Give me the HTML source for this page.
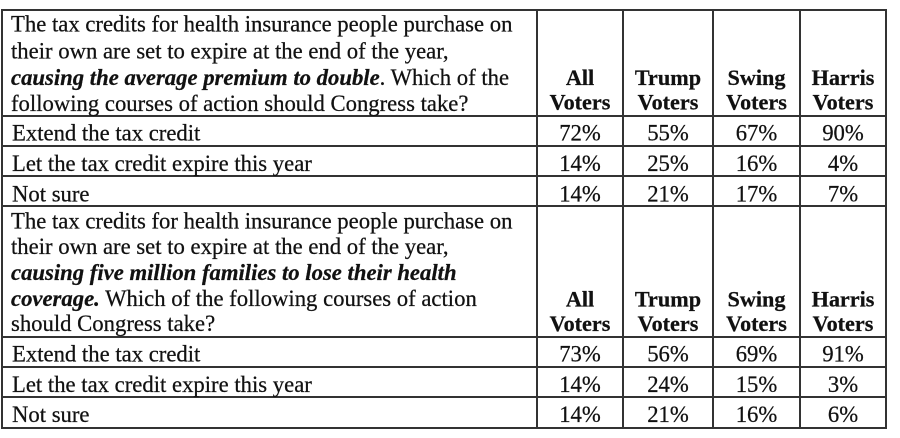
<!DOCTYPE html>
<html>
<head>
<meta charset="utf-8">
<style>
  html, body { margin: 0; padding: 0; background: #fff; }
  body { width: 900px; height: 438px; overflow: hidden; }
  svg { display: block; }
  text { font-family: "Liberation Serif", "Times New Roman", serif; fill: #111; stroke: #111; stroke-width: 0.25px; }
  .r { font-size: 22.7px; }
  .h { font-size: 22.2px; font-weight: bold; }
  .bi { font-weight: bold; font-style: italic; }
</style>
</head>
<body>
<svg width="900" height="438" viewBox="0 0 900 438" xmlns="http://www.w3.org/2000/svg">
  <rect width="900" height="438" fill="#fff" stroke="none"/>
  <g stroke="#333" stroke-width="2" fill="none">
    <line x1="1" y1="10" x2="887" y2="10"/>
    <line x1="1" y1="116" x2="887" y2="116"/>
    <line x1="1" y1="146" x2="887" y2="146"/>
    <line x1="1" y1="176" x2="887" y2="176"/>
    <line x1="1" y1="206" x2="887" y2="206"/>
    <line x1="1" y1="337" x2="887" y2="337"/>
    <line x1="1" y1="367" x2="887" y2="367"/>
    <line x1="1" y1="397" x2="887" y2="397"/>
    <line x1="1" y1="428" x2="887" y2="428"/>
    <line x1="2" y1="9" x2="2" y2="429"/>
    <line x1="537" y1="9" x2="537" y2="429"/>
    <line x1="623" y1="9" x2="623" y2="429"/>
    <line x1="713" y1="9" x2="713" y2="429"/>
    <line x1="800" y1="9" x2="800" y2="429"/>
    <line x1="886" y1="9" x2="886" y2="429"/>
  </g>

  <!-- Table 1 header -->
  <text class="r" x="11" y="31.7">The tax credits for health insurance people purchase on</text>
  <text class="r" x="11" y="58.3">their own are set to expire at the end of the year,</text>
  <text class="r" x="11" y="85"><tspan class="bi">causing the average premium to double</tspan>. Which of the</text>
  <text class="r" x="11" y="111">following courses of action should Congress take?</text>

  <text class="h" x="580" y="85" text-anchor="middle">All</text>
  <text class="h" x="580" y="109.5" text-anchor="middle">Voters</text>
  <text class="h" x="668" y="85" text-anchor="middle">Trump</text>
  <text class="h" x="668" y="109.5" text-anchor="middle">Voters</text>
  <text class="h" x="756.5" y="85" text-anchor="middle">Swing</text>
  <text class="h" x="756.5" y="109.5" text-anchor="middle">Voters</text>
  <text class="h" x="843" y="85" text-anchor="middle">Harris</text>
  <text class="h" x="843" y="109.5" text-anchor="middle">Voters</text>

  <text class="r" x="12" y="140.5">Extend the tax credit</text>
  <text class="r" x="12" y="171">Let the tax credit expire this year</text>
  <text class="r" x="12" y="201.5">Not sure</text>

  <g text-anchor="middle">
    <text class="r" x="580" y="140.5">72%</text>
    <text class="r" x="668" y="140.5">55%</text>
    <text class="r" x="756.5" y="140.5">67%</text>
    <text class="r" x="843" y="140.5">90%</text>
    <text class="r" x="580" y="171">14%</text>
    <text class="r" x="668" y="171">25%</text>
    <text class="r" x="756.5" y="171">16%</text>
    <text class="r" x="843" y="171">4%</text>
    <text class="r" x="580" y="201.5">14%</text>
    <text class="r" x="668" y="201.5">21%</text>
    <text class="r" x="756.5" y="201.5">17%</text>
    <text class="r" x="843" y="201.5">7%</text>
  </g>

  <!-- Table 2 header -->
  <text class="r" x="11" y="228.3">The tax credits for health insurance people purchase on</text>
  <text class="r" x="11" y="254">their own are set to expire at the end of the year,</text>
  <text class="r" x="11" y="280"><tspan class="bi">causing five million families to lose their health</tspan></text>
  <text class="r" x="11" y="306"><tspan class="bi">coverage.</tspan> Which of the following courses of action</text>
  <text class="r" x="11" y="331">should Congress take?</text>

  <text class="h" x="580" y="306.3" text-anchor="middle">All</text>
  <text class="h" x="580" y="331" text-anchor="middle">Voters</text>
  <text class="h" x="668" y="306.3" text-anchor="middle">Trump</text>
  <text class="h" x="668" y="331" text-anchor="middle">Voters</text>
  <text class="h" x="756.5" y="306.3" text-anchor="middle">Swing</text>
  <text class="h" x="756.5" y="331" text-anchor="middle">Voters</text>
  <text class="h" x="843" y="306.3" text-anchor="middle">Harris</text>
  <text class="h" x="843" y="331" text-anchor="middle">Voters</text>

  <text class="r" x="12" y="361.5">Extend the tax credit</text>
  <text class="r" x="12" y="392">Let the tax credit expire this year</text>
  <text class="r" x="12" y="422">Not sure</text>

  <g text-anchor="middle">
    <text class="r" x="580" y="361.5">73%</text>
    <text class="r" x="668" y="361.5">56%</text>
    <text class="r" x="756.5" y="361.5">69%</text>
    <text class="r" x="843" y="361.5">91%</text>
    <text class="r" x="580" y="392">14%</text>
    <text class="r" x="668" y="392">24%</text>
    <text class="r" x="756.5" y="392">15%</text>
    <text class="r" x="843" y="392">3%</text>
    <text class="r" x="580" y="422">14%</text>
    <text class="r" x="668" y="422">21%</text>
    <text class="r" x="756.5" y="422">16%</text>
    <text class="r" x="843" y="422">6%</text>
  </g>
</svg>
</body>
</html>
